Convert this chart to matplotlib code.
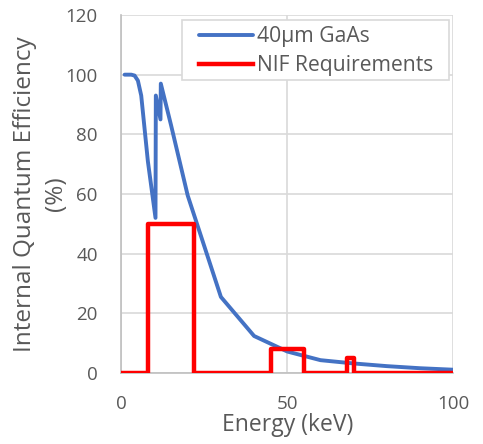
import matplotlib
matplotlib.use("Agg")
import matplotlib.pyplot as plt
from matplotlib.patches import Rectangle

# Blue series: 40um GaAs internal quantum efficiency
gaas_energy = [1, 3, 4, 5, 6, 8, 10.3, 10.4, 11.8, 11.9, 15, 20, 30, 40, 50, 60, 70, 80, 90, 100]
gaas_iqe = [100, 100, 99.7, 98, 93, 71, 52, 93, 85, 97, 83, 59.5, 25.5, 12.4, 7.2, 4.3, 3.2, 2.3, 1.6, 1.1]

# Red series: NIF requirements (step outline)
nif_energy = [0, 8, 8, 22, 22, 45, 45, 55, 55, 68, 68, 70, 70, 100]
nif_req = [0, 0, 50, 50, 0, 0, 8, 8, 0, 0, 5, 5, 0, 0]

x_ticks = [0, 50, 100]
y_ticks = [0, 20, 40, 60, 80, 100, 120]

plt.rcParams['font.family'] = ['Open Sans', 'DejaVu Sans']
txt = '#595959'
W, H = 483, 444

fig = plt.figure(figsize=(W / 100, H / 100), dpi=100)
ax = fig.add_axes([121.3 / W, 1 - 373 / H, (453.3 - 121.3) / W, (373 - 15) / H])

ax.plot(gaas_energy, gaas_iqe, color='#4472C4', lw=2.8, label='40µm GaAs',
        solid_joinstyle='round', solid_capstyle='round', zorder=3)
ax.plot(nif_energy, nif_req, color='#FF0000', lw=3.2, label='NIF Requirements', zorder=4)

ax.set_xlim(0, 100)
ax.set_ylim(0, 120)
ax.set_xticks(x_ticks)
ax.set_yticks(y_ticks)
ax.grid(True, color='#d9d9d9', lw=1.2, zorder=0)
ax.set_axisbelow(True)
for s in ['top', 'right']:
    ax.spines[s].set_visible(False)
for s in ['left', 'bottom']:
    ax.spines[s].set_color('#bfbfbf')
    ax.spines[s].set_linewidth(1.2)
ax.tick_params(length=0, labelsize=13.5, labelcolor=txt)
ax.tick_params(axis='y', pad=17)
ax.tick_params(axis='x', pad=16)

ax.set_xlabel('Energy (keV)', fontsize=16.5, color=txt, labelpad=0)
ax.set_ylabel('Internal Quantum Efficiency\n(%)', fontsize=17.5, color=txt, labelpad=-2,
              linespacing=1.4)

# legend frame drawn as a plain rectangle (Excel-like wide side padding)
frame = Rectangle((181.7 / W, 1 - 80 / H), (449 - 181.7) / W, 60 / H,
                  transform=fig.transFigure, facecolor='white', edgecolor='#d9d9d9',
                  lw=1.2, zorder=5, clip_on=False)
ax.add_artist(frame)

leg = ax.legend(loc='upper left', bbox_to_anchor=(199 / W, 1 - 26 / H),
                bbox_transform=fig.transFigure, fontsize=15.2, frameon=False,
                handlelength=2.55, handletextpad=0.22, borderpad=0,
                labelspacing=0.38, borderaxespad=0)
leg.set_zorder(6)
for t in leg.get_texts():
    t.set_color(txt)

fig.savefig('out.png', dpi=100)
